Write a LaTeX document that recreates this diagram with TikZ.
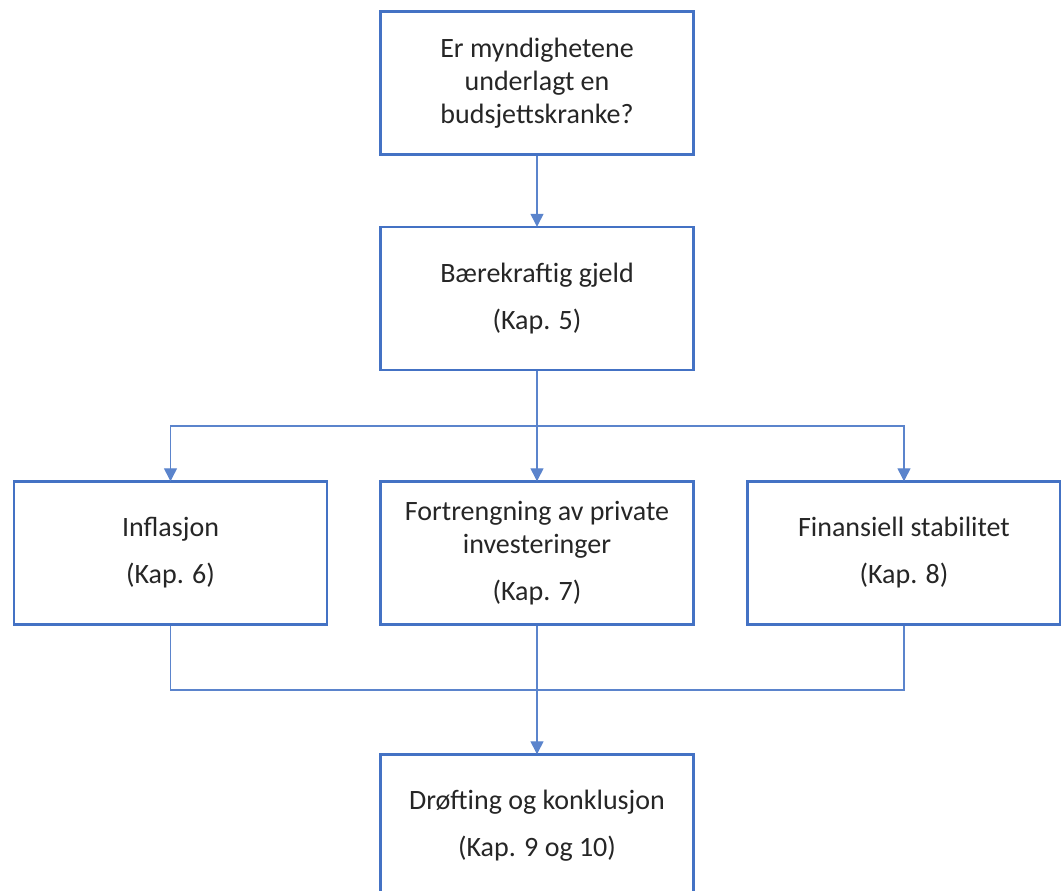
\documentclass[tikz,border=0pt]{standalone}
\usepackage{fontspec}
\setmainfont{Carlito}
\usetikzlibrary{arrows.meta}
\definecolor{boxblue}{HTML}{4472C4}
\definecolor{lineblue}{HTML}{5B84CC}
\tikzset{
  stepbox/.style={draw=boxblue, line width=2.4pt, fill=white, minimum width=313pt, minimum height=143pt, inner sep=0pt, align=center, text=black!85, font=\fontsize{28}{33}\selectfont},
  conn/.style={draw=lineblue, line width=1.3pt},
  arr/.style={conn, -{Triangle[width=13pt,length=13pt]}, shorten >=-1pt}
}
\begin{document}
\begin{tikzpicture}[x=1pt,y=-1pt]
\useasboundingbox (0,0) rectangle (1061,891);
\clip (0,0) rectangle (1061,891);
\node[stepbox] (q) at (537,83) {Er myndighetene\\underlagt en\\budsjettskranke?};
\node[stepbox] (g) at (537,298.5) {Bærekraftig gjeld\\[14pt](Kap. 5)};
\node[stepbox] (inf) at (170.5,553) {Inflasjon\\[14pt](Kap. 6)};
\node[stepbox] (fort) at (537,553) {Fortrengning av private\\investeringer\\[14pt](Kap. 7)};
\node[stepbox] (fin) at (904,553) {Finansiell stabilitet\\[14pt](Kap. 8)};
\node[stepbox] (dr) at (537,826) {Drøfting og konklusjon\\[14pt](Kap. 9 og 10)};
\coordinate (split) at (537,426);
\coordinate (join) at (537,690);
\draw[arr] (q.south) -- (g.north);
\draw[arr] (g.south) -- (fort.north);
\draw[arr] (split) -| (inf.north);
\draw[arr] (split) -| (fin.north);
\draw[conn] (inf.south) |- (join);
\draw[conn] (fin.south) |- (join);
\draw[arr] (fort.south) -- (dr.north);
\end{tikzpicture}
\end{document}
